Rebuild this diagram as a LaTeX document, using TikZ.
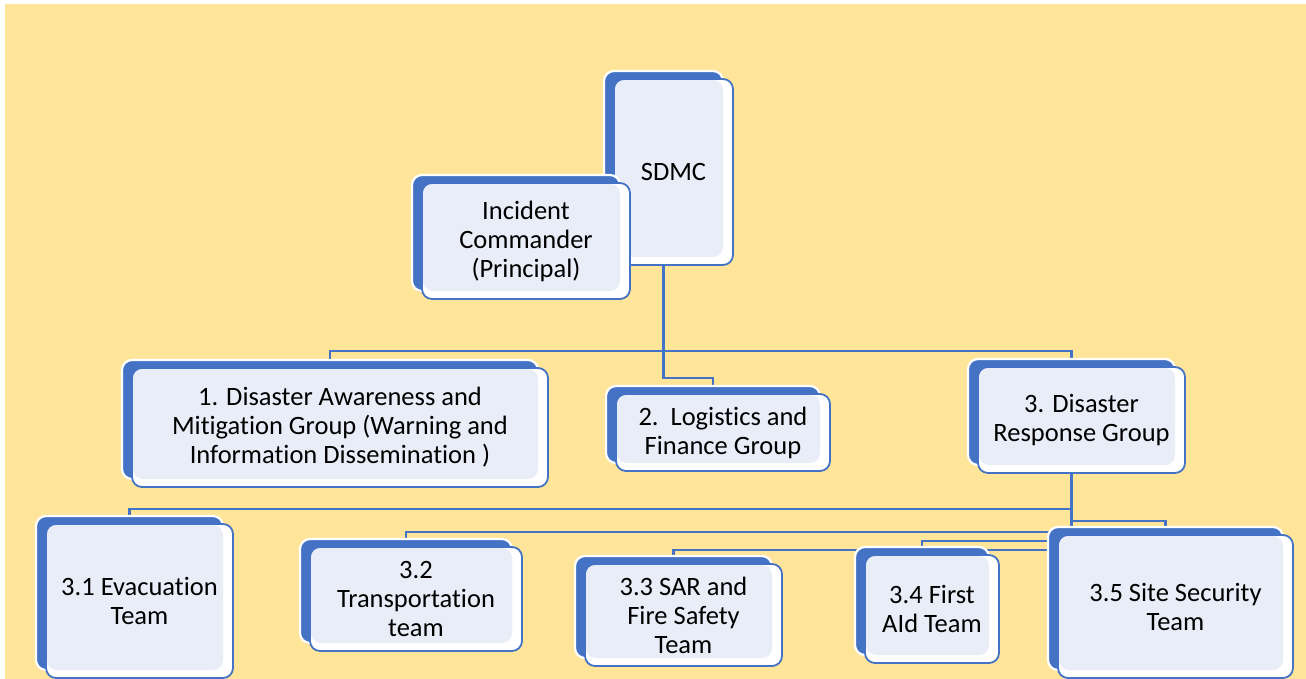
\documentclass[tikz,border=0pt]{standalone}
\usepackage{fontspec}
\setmainfont{Carlito}[Ligatures={NoCommon}]
\usetikzlibrary{backgrounds}
\definecolor{paper}{HTML}{FFE599}
\definecolor{boxblue}{HTML}{4472C4}
\definecolor{lightfill}{HTML}{E9EDF7}
\tikzset{
  backbox/.style={rectangle, rounded corners=10pt, fill=boxblue, draw=white,
    line width=2.2pt, inner sep=0pt, outer sep=0pt},
  frontbox/.style={rectangle, rounded corners=10pt, draw=boxblue, line width=1.8pt,
    inner sep=0pt, outer sep=0pt, align=center, text=black,
    font=\fontsize{26.5}{29}\selectfont},
  conn/.style={draw=boxblue, line width=2.4pt},
}
% one org-chart unit: blue back card, white card with a light face, text on top
% #1 name, #2..#5 front card corners (x1,y1,x2,y2), #6 text
\newcommand\orgunit[6]{%
  \node[backbox, minimum width={#4-#2}, minimum height={#5-#3}]
    (#1) at ({(#2+#4)/2-10},{(#3+#5)/2-8}) {};
  \fill[white, rounded corners=10pt] (#2,#3) rectangle (#4,#5);
  \fill[lightfill, rounded corners=10pt] (#2+1,#3+1) rectangle (#4-10,#5-8);
  \node[frontbox, minimum width={#4-#2}, minimum height={#5-#3}]
    (#1F) at ({(#2+#4)/2},{(#3+#5)/2}) {#6};
}
\begin{document}
\begin{tikzpicture}[x=1pt,y=-1pt]
\useasboundingbox (0,0) rectangle (1306,679);
\begin{scope}[on background layer]
  \fill[white] (0,0) rectangle (1306,679);
  \fill[paper] (5,4) rectangle (1306,679);
\end{scope}

% top of the chart
\orgunit{sdmc}{614}{79}{733}{265}{SDMC}
\orgunit{ic}{422}{183}{630}{299}{Incident\\Commander\\(Principal)}

% groups
\orgunit{gone}{132}{368}{548}{487}{1. Disaster Awareness and\\Mitigation Group (Warning and\\Information Dissemination )}
\orgunit{gtwo}{616}{394}{830}{471}{2.\ \ Logistics and\\Finance Group}
\orgunit{gthree}{978}{367}{1185}{473}{3. Disaster\\Response Group}

% response teams
\orgunit{tone}{46}{524}{233}{678}{3.1 Evacuation\\Team}
\orgunit{ttwo}{310}{547}{522}{651}{3.2\\Transportation\\team}
\orgunit{tthree}{585}{564}{782}{666}{3.3 SAR and\\Fire Safety\\Team}
\orgunit{tfour}{865}{555}{999}{663}{3.4 First\\AId Team}
\orgunit{tfive}{1058}{535}{1293}{678}{3.5 Site Security\\Team}

% connectors, kept behind the cards
\begin{scope}[on background layer]
  \draw[conn] (sdmc.south) -- ++(0,121) -| (gtwo.north);
  \draw[conn] (gone.north) -- ++(0,-9) -| (gthree.north);
  \draw[conn] (gthree.south) -- ++(0,44) -| (tone.north);
  \draw[conn] (gthree.south) -- ++(0,56) -| (tfive.north);
  \draw[conn] (gthree.south) -- ++(0,67) -| (ttwo.north);
  \draw[conn] (gthree.south) -- ++(0,76) -| (tfour.north);
  \draw[conn] (gthree.south) -- ++(0,85) -| (tthree.north);
\end{scope}
\end{tikzpicture}
\end{document}
